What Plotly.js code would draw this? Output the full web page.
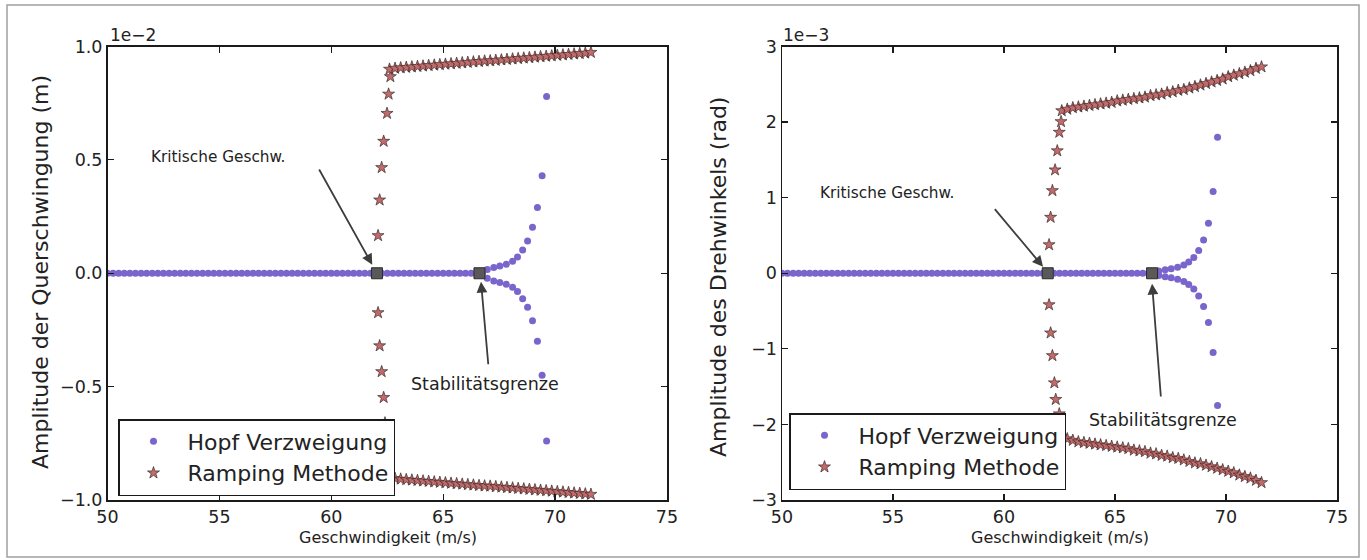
<!DOCTYPE html>
<html>
<head>
<meta charset="utf-8">
<script src="https://cdn.plot.ly/plotly-3.0.1.min.js"></script>
<style>html,body{margin:0;padding:0;background:#fff;}#chart{width:1367px;height:560px;}</style>
</head>
<body>
<div id="chart"></div>
<script>
// ---------- DATA ----------
// speeds (m/s) of the Hopf bifurcation points on the trivial branch
const hopfZeroX = [50.0,50.25,50.5,50.75,51.0,51.25,51.5,51.75,52.0,52.25,52.5,52.75,53.0,53.25,53.5,53.75,54.0,54.25,54.5,54.75,55.0,55.25,55.5,55.75,56.0,56.25,56.5,56.75,57.0,57.25,57.5,57.75,58.0,58.25,58.5,58.75,59.0,59.25,59.5,59.75,60.0,60.25,60.5,60.75,61.0,61.25,61.5,61.75,62.0,62.25,62.5,62.75,63.0,63.25,63.5,63.75,64.0,64.25,64.5,64.75,65.0,65.25,65.5,65.75,66.0,66.25,66.5,66.75];
const hopfZeroY = [0,0,0,0,0,0,0,0,0,0,0,0,0,0,0,0,0,0,0,0,0,0,0,0,0,0,0,0,0,0,0,0,0,0,0,0,0,0,0,0,0,0,0,0,0,0,0,0,0,0,0,0,0,0,0,0,0,0,0,0,0,0,0,0,0,0,0,0];
// unstable Hopf branches
const hopfBranchX = [66.97,67.26,67.53,67.82,68.10,68.32,68.55,68.77,68.99,69.21,69.42,69.62];
const hopfQuerUp  = [0.016,0.025,0.032,0.040,0.053,0.072,0.103,0.142,0.203,0.29,0.43,0.78];      // x1e-2 m
const hopfQuerLo  = [-0.022,-0.034,-0.041,-0.049,-0.062,-0.081,-0.112,-0.150,-0.209,-0.30,-0.45,-0.74];
const hopfDrehUp  = [0.03,0.045,0.06,0.08,0.11,0.15,0.21,0.30,0.44,0.66,1.08,1.80];              // x1e-3 rad
const hopfDrehLo  = [-0.03,-0.045,-0.06,-0.08,-0.11,-0.15,-0.21,-0.30,-0.44,-0.65,-1.05,-1.75];

// Ramping method: transient column near the critical speed
const rampColQuerX = [62.54,62.47,62.40,62.34,62.25,62.16,62.09,62.09,62.16,62.25,62.34,62.49,62.56,62.64];
const rampColQuerY = [-0.83,-0.75,-0.66,-0.548,-0.434,-0.32,-0.174,0.166,0.323,0.466,0.582,0.705,0.79,0.867];
const rampColDrehX = [62.49,62.33,62.27,62.18,62.10,62.03,62.03,62.10,62.18,62.30,62.40,62.49,62.57];
const rampColDrehY = [-1.86,-1.67,-1.45,-1.09,-0.79,-0.417,0.377,0.74,1.093,1.367,1.62,1.865,2.006];
// Ramping method: limit cycle amplitudes
const rampX = [62.6,62.85,63.1,63.35,63.6,63.85,64.1,64.35,64.6,64.85,65.1,65.35,65.6,65.85,66.1,66.35,66.6,66.85,67.1,67.35,67.6,67.85,68.1,68.35,68.6,68.85,69.1,69.35,69.6,69.85,70.1,70.35,70.6,70.85,71.1,71.35,71.6];
const rampQuerUp = [0.900,0.904,0.906,0.908,0.910,0.912,0.914,0.916,0.918,0.920,0.922,0.924,0.926,0.928,0.930,0.932,0.934,0.936,0.937,0.939,0.941,0.943,0.945,0.947,0.949,0.951,0.953,0.955,0.957,0.959,0.961,0.963,0.965,0.967,0.969,0.971,0.974];
const rampQuerLo = [-0.900,-0.905,-0.908,-0.910,-0.912,-0.914,-0.916,-0.918,-0.920,-0.922,-0.924,-0.926,-0.928,-0.930,-0.932,-0.934,-0.936,-0.938,-0.939,-0.941,-0.943,-0.945,-0.947,-0.949,-0.951,-0.953,-0.955,-0.957,-0.959,-0.961,-0.963,-0.965,-0.967,-0.969,-0.971,-0.973,-0.975];
const rampDrehUp = [2.15,2.17,2.19,2.20,2.21,2.22,2.23,2.24,2.25,2.26,2.28,2.29,2.30,2.31,2.32,2.33,2.35,2.36,2.37,2.39,2.40,2.42,2.43,2.45,2.47,2.49,2.51,2.53,2.55,2.57,2.60,2.62,2.64,2.66,2.68,2.71,2.73];
const rampDrehLo = [-2.16,-2.19,-2.21,-2.23,-2.24,-2.25,-2.26,-2.27,-2.28,-2.29,-2.30,-2.31,-2.32,-2.34,-2.35,-2.36,-2.38,-2.39,-2.41,-2.42,-2.44,-2.45,-2.47,-2.49,-2.51,-2.52,-2.54,-2.56,-2.58,-2.60,-2.62,-2.64,-2.67,-2.69,-2.71,-2.74,-2.77];

// special points: critical speed and stability limit
const markQuerX = [62.04, 66.62];
const markDrehX = [61.97, 66.67];
const markY = [0, 0];

// labels
const seriesNames = ['Hopf Verzweigung', 'Ramping Methode'];
const xTitle = 'Geschwindigkeit (m/s)';
const yTitleQuer = 'Amplitude der Querschwingung (m)';
const yTitleDreh = 'Amplitude des Drehwinkels (rad)';
const txtKrit = 'Kritische Geschw.';
const txtStab = 'Stabilitätsgrenze';
const xTicks = [50, 55, 60, 65, 70, 75];
const yTicksQuer = [-1.0, -0.5, 0.0, 0.5, 1.0];
const yTicksDreh = [-3, -2, -1, 0, 1, 2, 3];

// ---------- STYLE ----------
const FONT = 'DejaVu Sans, Verdana, sans-serif';
const hopfColor = '#7a65cc';
const starFill = '#c46a6a';
const starEdge = '#3a2a2a';
const W = 1367, H = 560;
const px = v => v / W, py = v => 1 - v / H;

const hopfMarker = {symbol: 'circle', size: 7, color: hopfColor, line: {width: 0}};
const starMarker = {symbol: 'star', size: 9, color: starFill, line: {color: starEdge, width: 0.7}};
const sqMarker = {symbol: 'square', size: 11, color: '#595959', line: {color: '#2b2b2b', width: 1}};

const traces = [
  {x: hopfZeroX.concat(hopfBranchX, hopfBranchX), y: hopfZeroY.concat(hopfQuerUp, hopfQuerLo),
   type: 'scatter', mode: 'markers', name: seriesNames[0], marker: hopfMarker, xaxis: 'x', yaxis: 'y', legend: 'legend'},
  {x: rampColQuerX.concat(rampX, rampX), y: rampColQuerY.concat(rampQuerUp, rampQuerLo),
   type: 'scatter', mode: 'markers', name: seriesNames[1], marker: starMarker, xaxis: 'x', yaxis: 'y', legend: 'legend'},
  {x: markQuerX, y: markY, type: 'scatter', mode: 'markers', marker: sqMarker, showlegend: false, xaxis: 'x', yaxis: 'y'},

  {x: hopfZeroX.concat(hopfBranchX, hopfBranchX), y: hopfZeroY.concat(hopfDrehUp, hopfDrehLo),
   type: 'scatter', mode: 'markers', name: seriesNames[0], marker: hopfMarker, xaxis: 'x2', yaxis: 'y2', legend: 'legend2'},
  {x: rampColDrehX.concat(rampX, rampX), y: rampColDrehY.concat(rampDrehUp, rampDrehLo),
   type: 'scatter', mode: 'markers', name: seriesNames[1], marker: starMarker, xaxis: 'x2', yaxis: 'y2', legend: 'legend2'},
  {x: markDrehX, y: markY, type: 'scatter', mode: 'markers', marker: sqMarker, showlegend: false, xaxis: 'x2', yaxis: 'y2'}
];

const axCommon = {
  showgrid: false, zeroline: false, showline: true, mirror: 'ticks',
  linecolor: '#1a1a1a', linewidth: 1.5, ticks: 'inside', ticklen: 6, tickwidth: 1.2, tickcolor: '#1a1a1a',
  tickfont: {family: FONT, size: 17.5, color: '#222'}
};
const yTop = py(46.5), yBot = py(500);

const legendCommon = {
  bgcolor: '#ffffff', bordercolor: '#1a1a1a', borderwidth: 1.5,
  font: {family: FONT, size: 22, color: '#222'}, xanchor: 'left', yanchor: 'bottom',
  itemwidth: 58, tracegroupgap: 0
};

function arrow(xr, yr, hx, hy, tx, ty) {
  return {xref: xr, yref: yr, axref: xr, ayref: yr, x: hx, y: hy, ax: tx, ay: ty, text: '',
          showarrow: true, arrowhead: 2, arrowsize: 1.2, arrowwidth: 1.8, arrowcolor: '#3d3d3d', standoff: 0};
}
function label(xr, yr, x, y, t, size) {
  return {xref: xr, yref: yr, x: x, y: y, text: t, showarrow: false,
          font: {family: FONT, size: size || 16, color: '#222'}, xanchor: 'center', yanchor: 'middle'};
}

const layout = {
  width: W, height: H, margin: {l: 0, r: 0, t: 0, b: 0},
  paper_bgcolor: '#ffffff', plot_bgcolor: '#ffffff',
  font: {family: FONT, color: '#222'},
  xaxis: Object.assign({}, axCommon, {domain: [px(107.5), px(667)], range: [50, 75], tickvals: xTicks, anchor: 'y'}),
  yaxis: Object.assign({}, axCommon, {domain: [yBot, yTop], range: [-1, 1], tickvals: yTicksQuer, tickformat: '.1f', anchor: 'x'}),
  xaxis2: Object.assign({}, axCommon, {domain: [px(782), px(1337)], range: [50, 75], tickvals: xTicks, anchor: 'y2'}),
  yaxis2: Object.assign({}, axCommon, {domain: [yBot, yTop], range: [-3, 3], tickvals: yTicksDreh, tickformat: 'd', anchor: 'x2'}),
  legend: Object.assign({}, legendCommon, {x: px(118), y: py(496)}),
  legend2: Object.assign({}, legendCommon, {x: px(789), y: py(490)}),
  annotations: [
    // axis titles
    label('paper', 'paper', px(388), py(537), xTitle, 16),
    label('paper', 'paper', px(1060), py(537), xTitle, 16),
    Object.assign(label('paper', 'paper', px(40), py(272), yTitleQuer, 22), {textangle: -90}),
    Object.assign(label('paper', 'paper', px(718), py(277), yTitleDreh, 22), {textangle: -90}),
    // offset texts
    label('paper', 'paper', px(133), py(35), '1e\u22122', 17),
    label('paper', 'paper', px(806), py(35), '1e\u22123', 17),
    // left panel annotations
    arrow('x', 'y', 61.83, 0.037, 59.42, 0.464),
    label('x', 'y', 54.94, 0.513, txtKrit, 15.3),
    arrow('x', 'y', 66.69, -0.038, 67.02, -0.408),
    label('x', 'y', 66.85, -0.488, txtStab, 17.5),
    // right panel annotations
    arrow('x2', 'y2', 61.76, 0.086, 59.53, 0.868),
    label('x2', 'y2', 54.73, 1.066, txtKrit, 15.3),
    arrow('x2', 'y2', 66.67, -0.139, 67.07, -1.65),
    label('x2', 'y2', 67.14, -1.94, txtStab, 17.5)
  ],
  shapes: [
    {type: 'rect', xref: 'paper', yref: 'paper', x0: px(7), x1: px(1359), y0: py(557), y1: py(5),
     line: {color: '#a0a0a0', width: 1.5}, fillcolor: 'rgba(0,0,0,0)', layer: 'below'}
  ],
  showlegend: true
};

Plotly.newPlot('chart', traces, layout, {displayModeBar: false, staticPlot: true});
</script>
</body>
</html>
